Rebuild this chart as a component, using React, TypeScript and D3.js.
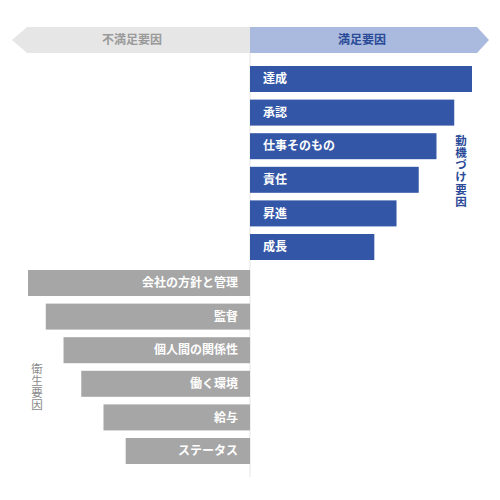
import React from 'react';
import * as d3 from 'd3';

// motivators (right, blue) and hygiene factors (left, grey)
const motivators = ['達成', '承認', '仕事そのもの', '責任', '昇進', '成長'];
const motivatorValues = [100, 92, 84, 76, 66, 56];
const hygiene = ['会社の方針と管理', '監督', '個人間の関係性', '働く環境', '給与', 'ステータス'];
const hygieneValues = [100, 92, 84, 76, 66, 56];

const W = 500;
const H = 500;
const CX = 250;
const FONT = '"Noto Sans CJK JP", "Noto Sans", sans-serif';
const BLUE = '#3356a7';
const GREY = '#a6a6a6';

export default function App() {
  const len = d3.scaleLinear().domain([0, 100]).range([0, 222]);
  const yTop = d3.scaleBand<string>().domain(motivators).range([66, 260]).paddingInner(0.226).paddingOuter(0);
  const yBot = d3.scaleBand<string>().domain(hygiene).range([270, 464]).paddingInner(0.226).paddingOuter(0);

  const hy0 = 27;
  const hy1 = 53;
  const hm = (hy0 + hy1) / 2;
  const leftArrow = d3.path();
  leftArrow.moveTo(CX, hy0);
  leftArrow.lineTo(27, hy0);
  leftArrow.lineTo(12, hm);
  leftArrow.lineTo(27, hy1);
  leftArrow.lineTo(CX, hy1);
  leftArrow.closePath();
  const rightArrow = d3.path();
  rightArrow.moveTo(CX, hy0);
  rightArrow.lineTo(477, hy0);
  rightArrow.lineTo(489, hm);
  rightArrow.lineTo(477, hy1);
  rightArrow.lineTo(CX, hy1);
  rightArrow.closePath();

  return (
    <svg width={W} height={H} style={{ position: 'absolute', left: 0, top: 0 }} fontFamily={FONT}>
      <rect width={W} height={H} fill="#fff" />
      <path d={leftArrow.toString()} fill="#e6e6e6" />
      <path d={rightArrow.toString()} fill="#aabade" />
      <text x={132} y={hm} dy="0.35em" textAnchor="middle" fontSize={12} fontWeight={700} fill="#9a9a9a">不満足要因</text>
      <text x={362} y={hm} dy="0.35em" textAnchor="middle" fontSize={12} fontWeight={700} fill="#2a4a98">満足要因</text>

      <line x1={CX} x2={CX} y1={hy1} y2={477} stroke="#e4e4e4" strokeWidth={1} />

      {motivators.map((m, i) => (
        <g key={m}>
          <rect x={CX} y={yTop(m)} width={len(motivatorValues[i])} height={yTop.bandwidth()} fill={BLUE} />
          <text x={CX + 13} y={(yTop(m) ?? 0) + yTop.bandwidth() / 2} dy="0.35em" fontSize={12} fontWeight={700} fill="#fff">{m}</text>
        </g>
      ))}
      {hygiene.map((h, i) => (
        <g key={h}>
          <rect x={CX - len(hygieneValues[i])} y={yBot(h)} width={len(hygieneValues[i])} height={yBot.bandwidth()} fill={GREY} />
          <text x={CX - 12} y={(yBot(h) ?? 0) + yBot.bandwidth() / 2} dy="0.35em" textAnchor="end" fontSize={12} fontWeight={700} fill="#fff">{h}</text>
        </g>
      ))}

      <text x={461} y={135} fontSize={11.5} fontWeight={700} fill="#2a4a98"
        style={{ writingMode: 'vertical-rl', letterSpacing: '0.6px' }}>動機づけ要因</text>
      <text x={37} y={363} fontSize={11.5} fill="#8c8c8c"
        style={{ writingMode: 'vertical-rl', letterSpacing: '0.6px' }}>衛生要因</text>
    </svg>
  );
}
